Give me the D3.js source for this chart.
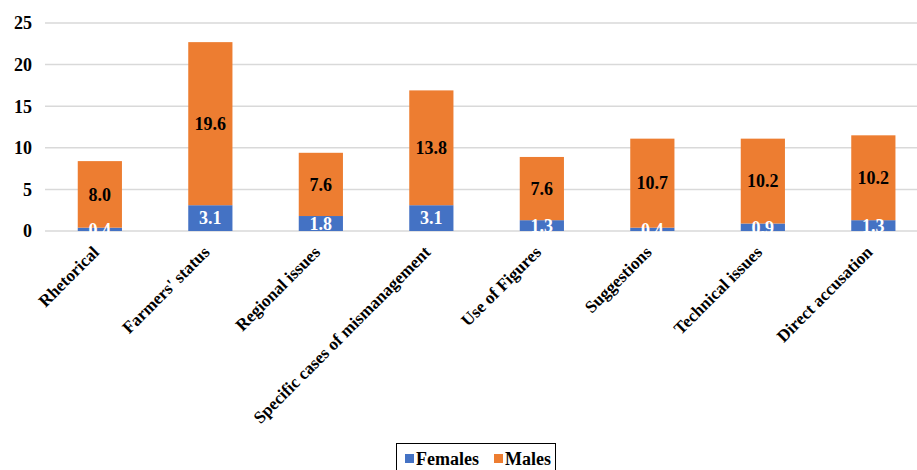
<!DOCTYPE html>
<html>
<head>
<meta charset="utf-8">
<script src="https://cdn.jsdelivr.net/npm/d3@7"></script>
<style>
  body { margin: 0; background: #fff; }
</style>
</head>
<body>
<svg id="chart" width="917" height="470"></svg>
<script>
const categories = ["Rhetorical", "Farmers' status", "Regional issues", "Specific cases of mismanagement",
                    "Use of Figures", "Suggestions", "Technical issues", "Direct accusation"];
const females = [0.4, 3.1, 1.8, 3.1, 1.3, 0.4, 0.9, 1.3];
const males   = [8.0, 19.6, 7.6, 13.8, 7.6, 10.7, 10.2, 10.2];
const yTicks  = [0, 5, 10, 15, 20, 25];
const seriesNames = ["Females", "Males"];
const seriesColors = ["#4472C4", "#ED7D31"];

const FONT = "Liberation Serif, Times New Roman, serif";
const svg = d3.select("#chart");

const x = d3.scaleBand().domain(categories).range([44.6, 928.6]).paddingInner(0.6).paddingOuter(0.3);
const y = d3.scaleLinear().domain([0, 25]).range([231, 23]);

// gridlines
svg.append("g").selectAll("line").data(yTicks).join("line")
  .attr("x1", 45).attr("x2", 917)
  .attr("y1", d => y(d)).attr("y2", d => y(d))
  .attr("stroke", "#d9d9d9").attr("stroke-width", 1.5);

// y axis labels
svg.append("g").selectAll("text").data(yTicks).join("text")
  .attr("x", 32).attr("y", d => y(d)).attr("dy", "0.35em")
  .attr("text-anchor", "end").attr("font-size", 18).attr("fill", "#000")
  .attr("font-family", FONT).attr("font-weight", "bold")
  .text(d => d);

// stacked data
const rows = categories.map((c, i) => ({ cat: c, Females: females[i], Males: males[i] }));
const stack = d3.stack().keys(seriesNames)(rows);

const groups = svg.append("g").selectAll("g").data(stack).join("g")
  .attr("fill", (d, i) => seriesColors[i]);

groups.selectAll("rect").data(d => d).join("rect")
  .attr("x", d => x(d.data.cat))
  .attr("width", x.bandwidth())
  .attr("y", d => y(d[1]))
  .attr("height", d => y(d[0]) - y(d[1]));

// value labels
stack.forEach((layer, si) => {
  svg.append("g").selectAll("text").data(layer).join("text")
    .attr("x", d => x(d.data.cat) + x.bandwidth() / 2)
    .attr("y", d => (y(d[0]) + y(d[1])) / 2)
    .attr("dy", "0.35em")
    .attr("text-anchor", "middle")
    .attr("font-size", 18)
    .attr("font-family", FONT).attr("font-weight", "bold")
    .attr("fill", si === 0 ? "#fff" : "#000")
    .text(d => (d[1] - d[0]).toFixed(1));
});

// category labels
svg.append("g").selectAll("text").data(categories).join("text")
  .attr("transform", d => `translate(${x(d) + x.bandwidth() / 2 - 4},${249}) rotate(-45)`)
  .attr("text-anchor", "end")
  .attr("dy", "0.35em")
  .attr("font-size", 17.2)
  .attr("font-family", FONT).attr("font-weight", "bold")
  .attr("fill", "#000")
  .text(d => d);

// legend
const lg = svg.append("g");
lg.append("rect").attr("x", 396.5).attr("y", 443.5).attr("width", 159).attr("height", 30)
  .attr("fill", "#fff").attr("stroke", "#000").attr("stroke-width", 1);
const items = [{ name: "Females", x: 405 }, { name: "Males", x: 494 }];
items.forEach((it, i) => {
  lg.append("rect").attr("x", it.x).attr("y", 454).attr("width", 9).attr("height", 9).attr("fill", seriesColors[i]);
  lg.append("text").attr("x", it.x + 11).attr("y", 459).attr("dy", "0.35em")
    .attr("font-size", 18).attr("font-family", FONT).attr("font-weight", "bold")
    .attr("fill", "#000").text(it.name);
});
</script>
</body>
</html>
